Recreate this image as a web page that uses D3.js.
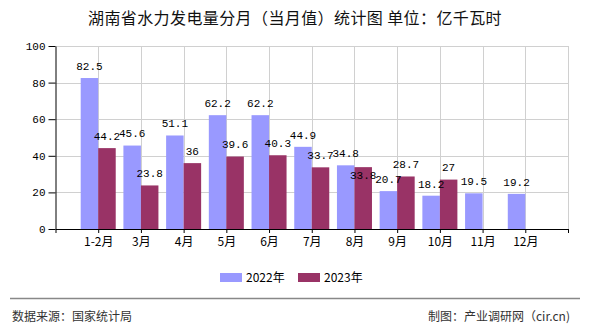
<!DOCTYPE html>
<html><head><meta charset="utf-8">
<script src="https://cdn.jsdelivr.net/npm/d3@7"></script>
<style>
body{margin:0;background:#fff;}
svg{display:block;}
</style></head>
<body>
<svg id="chart" width="590" height="330"></svg>
<script>
const categories = ["1-2月","3月","4月","5月","6月","7月","8月","9月","10月","11月","12月"];
const series2022 = [82.5,45.6,51.1,62.2,62.2,44.9,34.8,20.7,18.2,19.5,19.2];
const series2023 = [44.2,23.8,36,39.6,40.3,33.7,33.8,28.7,27,null,null];
const seriesNames = ["2022年","2023年"];
const colors = ["#9999FF","#993366"];
const yTicks = [0,20,40,60,80,100];
const title = "湖南省水力发电量分月（当月值）统计图 单位：亿千瓦时";
const sourceText = "数据来源：国家统计局";
const creditText = "制图：产业调研网（cir.cn)";

const svg = d3.select("#chart");
const cjk = "'Noto Sans CJK SC','Noto Sans',sans-serif";
const mono = "'Liberation Mono','DejaVu Sans Mono',monospace";
const L=55.5, R=568, T=46, B=229;

const x = d3.scaleLinear().domain([0, categories.length+1]).range([L,R]);
const y = d3.scaleLinear().domain([0,100]).range([B,T]);
const step = x(1)-x(0);
const bw = step*0.41;

// title
svg.append("text").attr("x",295).attr("y",24).attr("text-anchor","middle")
  .attr("font-family",cjk).attr("font-size",16).attr("letter-spacing",0.4).attr("fill","#111").text(title);

// grid
const g = svg.append("g");
g.selectAll("line.h").data(yTicks.filter(d=>d>0)).join("line")
  .attr("x1",L).attr("x2",R).attr("y1",d=>Math.round(y(d))+0.5).attr("y2",d=>Math.round(y(d))+0.5)
  .attr("stroke","#d0d0d0").attr("stroke-width",1);
g.selectAll("line.v").data(d3.range(1,categories.length+2)).join("line")
  .attr("x1",d=>Math.round(x(d))+0.5).attr("x2",d=>Math.round(x(d))+0.5).attr("y1",T).attr("y2",B)
  .attr("stroke","#d0d0d0").attr("stroke-width",1);

// bars
const allSeries = [series2022, series2023];
allSeries.forEach((s,si)=>{
  svg.append("g").selectAll("rect").data(s.map((v,i)=>({v,i})).filter(d=>d.v!=null)).join("rect")
    .attr("x",d=>x(d.i+1)+(si===0?-bw:0))
    .attr("width",bw)
    .attr("y",d=>y(d.v))
    .attr("height",d=>B-y(d.v))
    .attr("fill",colors[si]);
});

// labels with simple collision avoidance
const labels=[];
categories.forEach((c,i)=>{
  const a = series2022[i], b = series2023[i];
  let ya = a!=null ? y(a)-12 : null;
  let yb = b!=null ? y(b)-12 : null;
  if(a!=null) labels.push({x:x(i+1)-bw/2, y:ya, t:a});
  if(b!=null){
    if(ya!=null && Math.abs(ya-yb)<10) yb = y(b)+8;
    labels.push({x:x(i+1)+bw/2, y:yb, t:b});
  }
});
svg.append("g").selectAll("text").data(labels).join("text")
  .attr("x",d=>d.x).attr("y",d=>d.y).attr("dy","0.35em").attr("text-anchor","middle")
  .attr("font-family",mono).attr("font-size",11).attr("fill","#000").text(d=>d.t);

// axes
const yAxis = svg.append("g").attr("transform",`translate(${L},0)`)
  .call(d3.axisLeft(y).tickValues(yTicks).tickSize(7).tickPadding(3).tickSizeOuter(0));
const xAxis = svg.append("g").attr("transform",`translate(0,${B})`)
  .call(d3.axisBottom(x).tickValues(d3.range(0,categories.length+2)).tickSize(4).tickPadding(4).tickSizeOuter(0)
    .tickFormat(d=> (d>=1 && d<=categories.length) ? categories[d-1] : ""));
[yAxis,xAxis].forEach(a=>{
  a.selectAll("path,line").attr("stroke","#000");
  a.selectAll("text").attr("fill","#000");
});
yAxis.selectAll("text").attr("font-family",mono).attr("font-size",11);
xAxis.selectAll("text").attr("font-family",cjk).attr("font-size",12);

// legend
const lg = svg.append("g");
const lx=[220,298];
seriesNames.forEach((n,i)=>{
  lg.append("rect").attr("x",lx[i]).attr("y",273).attr("width",22).attr("height",9).attr("fill",colors[i]);
  lg.append("text").attr("x",lx[i]+26).attr("y",278).attr("dy","0.35em")
    .attr("font-family",cjk).attr("font-size",12).attr("fill","#000").text(n);
});

// footer
svg.append("line").attr("x1",10).attr("x2",580).attr("y1",298.5).attr("y2",298.5).attr("stroke","#888").attr("stroke-width",1.5);
svg.append("text").attr("x",12).attr("y",317).attr("dy","0.35em").attr("font-family",cjk).attr("font-size",12).attr("fill","#333").text(sourceText);
svg.append("text").attr("x",570).attr("y",317).attr("dy","0.35em").attr("text-anchor","end").attr("font-family",cjk).attr("font-size",12).attr("fill","#333").text(creditText);
</script>
</body></html>
